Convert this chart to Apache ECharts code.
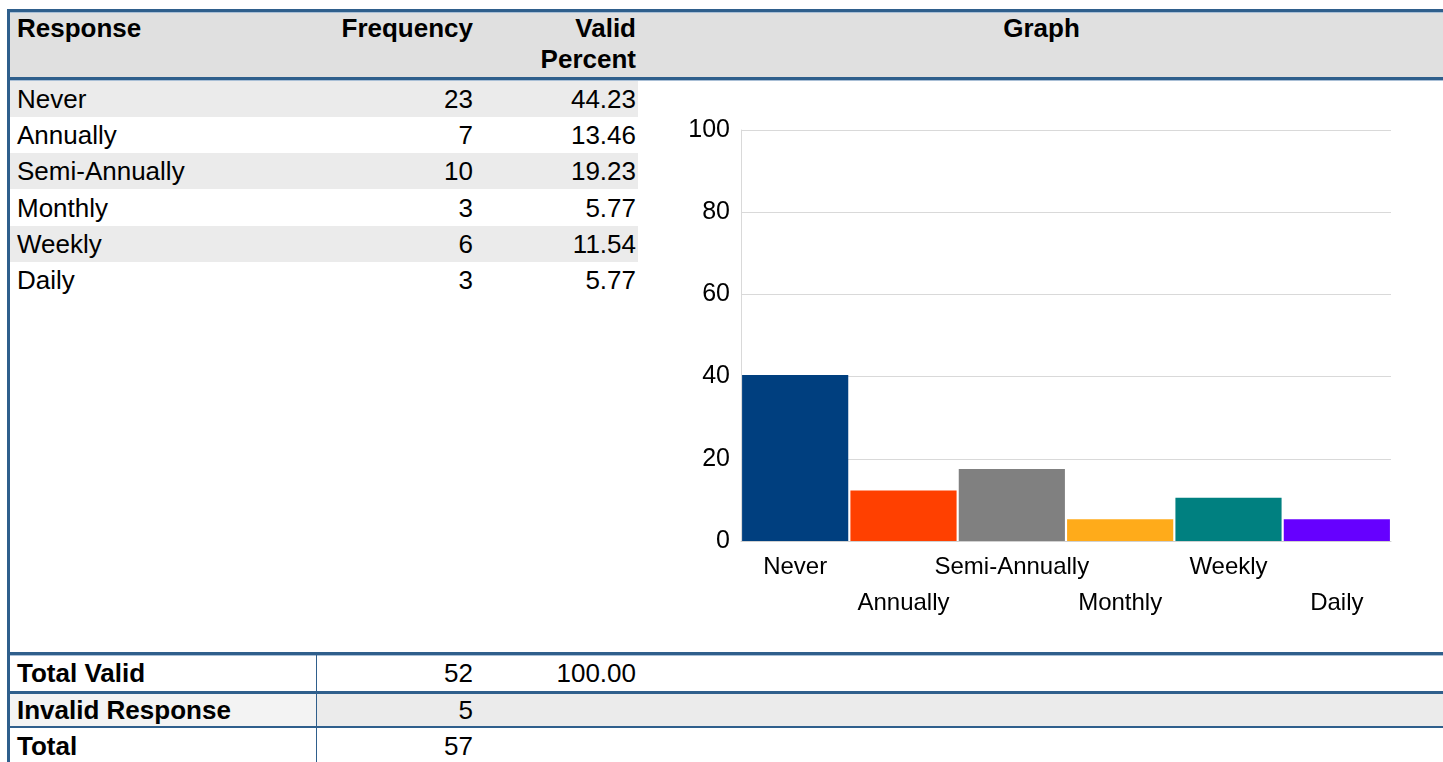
<!DOCTYPE html>
<html>
<head>
<meta charset="utf-8">
<script src="https://cdn.jsdelivr.net/npm/echarts@6/dist/echarts.min.js"></script>
<style>
  body { margin: 0; width: 1443px; height: 762px; overflow: hidden; background: #fff;
         font-family: "Liberation Sans", Arial, sans-serif; font-size: 26px; color: #000; position: relative; }
  .abs { position: absolute; }
  .bar { position: absolute; background: #2f5f8c; }
  .txt { position: absolute; white-space: nowrap; line-height: 36px; height: 36px; }
  .r { text-align: right; }
  .b { font-weight: bold; }
</style>
</head>
<body>
<div id="page"></div>
<div id="chart" class="abs" style="left:640px;top:82px;width:803px;height:570px;"></div>
<script>
// table data
const responses = ['Never', 'Annually', 'Semi-Annually', 'Monthly', 'Weekly', 'Daily'];
const frequencies = [23, 7, 10, 3, 6, 3];
const validPercents = ['44.23', '13.46', '19.23', '5.77', '11.54', '5.77'];
const totalRows = ['Total Valid', 'Invalid Response', 'Total'];
const totalFreq = [52, 5, 57];
const totalPct = ['100.00', '', ''];
// bar heights
const graphValues = [40.4, 12.3, 17.5, 5.3, 10.5, 5.3];
const barColors = ['#003f7f', '#ff4000', '#808080', '#ffab1a', '#008080', '#6600ff'];
const yTicks = [0, 20, 40, 60, 80, 100];

const page = document.getElementById('page');
function add(cls, style, text) {
  const d = document.createElement('div');
  d.className = cls;
  d.setAttribute('style', style);
  if (text !== undefined) d.textContent = text;
  page.appendChild(d);
  return d;
}

// header
add('abs', 'left:10px;top:12px;width:1433px;height:66px;background:#e0e0e0;');
add('bar', 'left:7px;top:9px;width:1436px;height:3px;');
add('abs', 'left:10px;top:12px;width:1433px;height:1px;background:#a9bfd6;');
add('bar', 'left:7px;top:77px;width:1436px;height:3px;');
add('abs', 'left:10px;top:80px;width:1433px;height:1px;background:#a9bfd6;');
add('txt b', 'left:17px;top:10px;', 'Response');
add('txt b r', 'left:300px;top:10px;width:173px;', 'Frequency');
add('txt b r', 'left:500px;top:10px;width:136px;', 'Valid');
add('txt b r', 'left:500px;top:41px;width:136px;', 'Percent');
add('txt b', 'left:640px;top:10px;width:803px;text-align:center;', 'Graph');

// rows
const rowTops = [81, 117, 153, 190, 226, 262];
responses.forEach((name, i) => {
  const t = rowTops[i];
  if (i % 2 === 0) add('abs', `left:10px;top:${t}px;width:628px;height:36px;background:#ebebeb;`);
  add('txt', `left:17px;top:${t}px;`, name);
  add('txt r', `left:380px;top:${t}px;width:93px;`, frequencies[i]);
  add('txt r', `left:520px;top:${t}px;width:116px;`, validPercents[i]);
});

// footer
add('bar', 'left:7px;top:652px;width:1436px;height:3px;');
add('abs', 'left:10px;top:655px;width:1433px;height:1px;background:#a9bfd6;');
add('abs', 'left:10px;top:694px;width:306px;height:33px;background:#f3f3f3;');
add('abs', 'left:317px;top:694px;width:1126px;height:33px;background:#ebebeb;');
add('bar', 'left:7px;top:691px;width:1436px;height:3px;');
add('bar', 'left:7px;top:726px;width:1436px;height:2px;');
add('bar', 'left:316px;top:655px;width:1px;height:107px;');
const footTops = [655, 692, 728];
totalRows.forEach((name, i) => {
  const t = footTops[i];
  add('txt b', `left:17px;top:${t}px;`, name);
  add('txt r', `left:380px;top:${t}px;width:93px;`, totalFreq[i]);
  add('txt r', `left:520px;top:${t}px;width:116px;`, totalPct[i]);
});
add('bar', 'left:7px;top:9px;width:3px;height:753px;');

// chart
const chart = echarts.init(document.getElementById('chart'));
chart.setOption({
  animation: false,
  grid: { left: 101, top: 48, width: 650, height: 411 },
  xAxis: {
    type: 'category',
    data: responses,
    axisLine: { lineStyle: { color: '#d0d0d0', width: 1 } },
    axisTick: { show: false },
    axisLabel: {
      interval: 0,
      color: '#000',
      fontSize: 24,
      fontFamily: 'Liberation Sans',
      lineHeight: 36,
      margin: 8,
      formatter: (v, i) => (i % 2 ? '\n' + v : v)
    }
  },
  yAxis: {
    type: 'value',
    min: yTicks[0],
    max: yTicks[yTicks.length - 1],
    interval: yTicks[1] - yTicks[0],
    axisLine: { show: true, lineStyle: { color: '#d9d9d9' } },
    axisTick: { show: false },
    splitLine: { lineStyle: { color: '#d9d9d9' } },
    axisLabel: { color: '#000', fontSize: 25, fontFamily: 'Liberation Sans', margin: 11 }
  },
  series: [{
    type: 'bar',
    barCategoryGap: '2%',
    data: graphValues.map((v, i) => ({ value: v, itemStyle: { color: barColors[i] } }))
  }]
});
</script>
</body>
</html>
